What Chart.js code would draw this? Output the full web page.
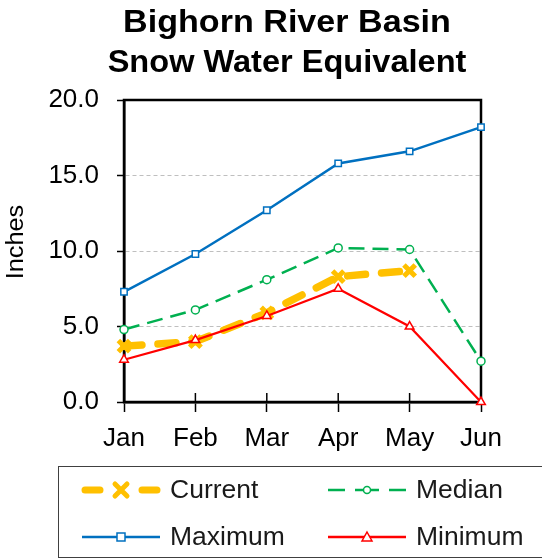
<!DOCTYPE html>
<html>
<head>
<meta charset="utf-8">
<script src="https://cdn.jsdelivr.net/npm/chart.js@4.4.1/dist/chart.umd.min.js"></script>
<style>
  html, body { margin: 0; padding: 0; background: #fff; }
  #wrap { width: 542px; height: 560px; }
</style>
</head>
<body>
<div id="wrap"><canvas id="swe"></canvas></div>
<script>
// Bighorn River Basin — snow water equivalent, monthly

const months = ['Jan', 'Feb', 'Mar', 'Apr', 'May', 'Jun'];
const currentSwe = [3.7, 4.0, 5.9, 8.3, 8.7, null];
const medianSwe = [4.8, 6.1, 8.1, 10.2, 10.1, 2.7];
const maximumSwe = [7.3, 9.8, 12.7, 15.8, 16.6, 18.2];
const minimumSwe = [2.8, 4.1, 5.7, 7.5, 5.0, 0.0];
const titleLines = ['Bighorn River Basin', 'Snow Water Equivalent'];
const yAxisTitle = 'Inches';

const FONT = "'Liberation Sans', Arial, sans-serif";
const ORANGE = '#FFC000';
const GREEN = '#00B050';
const BLUE = '#0070C0';
const RED = '#FF0000';

// legend entries (drawn by hand so the samples look like Excel's)
const legendItems = [
  { label: 'Current', color: ORANGE, width: 7, dash: 'current', marker: 'x', col: 0, row: 0 },
  { label: 'Median', color: GREEN, width: 2.5, dash: 'median', marker: 'circle', col: 1, row: 0 },
  { label: 'Maximum', color: BLUE, width: 2.5, dash: null, marker: 'square', col: 0, row: 1 },
  { label: 'Minimum', color: RED, width: 2.5, dash: null, marker: 'triangle', col: 1, row: 1 }
];

function drawMarker(ctx, type, x, y, color) {
  ctx.save();
  ctx.strokeStyle = color;
  ctx.fillStyle = '#fff';
  ctx.setLineDash([]);
  ctx.beginPath();
  if (type === 'x') {
    ctx.lineWidth = 5;
    ctx.lineCap = 'round';
    ctx.moveTo(x - 6, y - 6); ctx.lineTo(x + 6, y + 6);
    ctx.moveTo(x + 6, y - 6); ctx.lineTo(x - 6, y + 6);
    ctx.stroke();
  } else if (type === 'circle') {
    ctx.lineWidth = 1.5;
    ctx.arc(x, y, 3.5, 0, Math.PI * 2);
    ctx.fill(); ctx.stroke();
  } else if (type === 'square') {
    ctx.lineWidth = 1.5;
    ctx.rect(x - 4, y - 4, 8, 8);
    ctx.fill(); ctx.stroke();
  } else {
    ctx.lineWidth = 1.5;
    ctx.moveTo(x, y - 5); ctx.lineTo(x + 5, y + 4); ctx.lineTo(x - 5, y + 4); ctx.closePath();
    ctx.fill(); ctx.stroke();
  }
  ctx.restore();
}

// text slightly stretched sideways, like the original export
function wideText(ctx, text, x, y, sx) {
  ctx.save();
  ctx.translate(x, y);
  ctx.scale(sx, 1);
  ctx.fillText(text, 0, 0);
  ctx.restore();
}

const framePlugin = {
  id: 'frame',
  beforeDatasetsDraw(chart) {
    const { ctx, chartArea: a, scales } = chart;
    ctx.save();
    ctx.strokeStyle = '#000';
    ctx.lineWidth = 2.5;
    ctx.strokeRect(a.left, a.top, a.right - a.left, a.bottom - a.top);
    // x tick marks cross the axis line
    ctx.lineWidth = 1.5;
    months.forEach((m, i) => {
      const x = scales.x.getPixelForValue(i);
      ctx.beginPath();
      ctx.moveTo(x, a.bottom - 9);
      ctx.lineTo(x, a.bottom);
      ctx.stroke();
    });
    ctx.restore();
  },
  afterDraw(chart) {
    const { ctx } = chart;
    ctx.save();
    // title
    ctx.fillStyle = '#000';
    ctx.textAlign = 'center';
    ctx.textBaseline = 'alphabetic';
    ctx.font = 'bold 31px ' + FONT;
    wideText(ctx, titleLines[0], 287, 32, 1.1);
    wideText(ctx, titleLines[1], 287, 72, 1.05);

    // y axis title
    ctx.save();
    ctx.translate(17, 242);
    ctx.rotate(-Math.PI / 2);
    ctx.font = '23px ' + FONT;
    ctx.textBaseline = 'middle';
    ctx.scale(1.1, 1);
    ctx.fillText(yAxisTitle, 0, 0);
    ctx.restore();

    // legend box
    ctx.strokeStyle = '#404040';
    ctx.lineWidth = 1;
    ctx.strokeRect(58.5, 466.5, 500, 91);
    ctx.font = '25px ' + FONT;
    ctx.textAlign = 'left';
    ctx.textBaseline = 'middle';
    legendItems.forEach(it => {
      const x0 = it.col === 0 ? 82 : 328;
      const x1 = x0 + 78;
      const xm = (x0 + x1) / 2;
      const y = it.row === 0 ? 490 : 537;
      ctx.strokeStyle = it.color;
      ctx.lineWidth = it.width;
      ctx.beginPath();
      if (it.dash === 'current') {
        ctx.lineCap = 'round';
        ctx.moveTo(x0 + 3, y); ctx.lineTo(x0 + 18, y);
        ctx.moveTo(x1 - 18, y); ctx.lineTo(x1 - 3, y);
      } else if (it.dash === 'median') {
        ctx.lineCap = 'butt';
        ctx.moveTo(x0, y); ctx.lineTo(x0 + 17, y);
        ctx.moveTo(xm - 12, y); ctx.lineTo(xm + 12, y);
        ctx.moveTo(x1 - 17, y); ctx.lineTo(x1, y);
      } else {
        ctx.lineCap = 'butt';
        ctx.moveTo(x0, y); ctx.lineTo(x1, y);
      }
      ctx.stroke();
      drawMarker(ctx, it.marker, xm, y, it.color);
      ctx.fillStyle = '#1a1a1a';
      wideText(ctx, it.label, x1 + 10, y + 1, 1.06);
    });
    ctx.restore();
  }
};

new Chart(document.getElementById('swe'), {
  type: 'line',
  data: {
    labels: months,
    datasets: [
      {
        label: 'Minimum', data: minimumSwe,
        borderColor: RED, borderWidth: 2.2,
        pointStyle: 'triangle', pointRadius: 5, pointBorderWidth: 1.5,
        pointBackgroundColor: '#fff', pointBorderColor: RED,
        clip: false, tension: 0
      },
      {
        label: 'Maximum', data: maximumSwe,
        borderColor: BLUE, borderWidth: 2.5,
        pointStyle: 'rect', pointRadius: 4.5, pointBorderWidth: 1.5,
        pointBackgroundColor: '#fff', pointBorderColor: BLUE,
        clip: false, tension: 0
      },
      {
        label: 'Median', data: medianSwe,
        borderColor: GREEN, borderWidth: 2.5, borderDash: [16, 8],
        pointStyle: 'circle', pointRadius: 4, pointBorderWidth: 1.5,
        pointBackgroundColor: '#fff', pointBorderColor: GREEN,
        clip: false, tension: 0
      },
      {
        label: 'Current', data: currentSwe,
        borderColor: ORANGE, borderWidth: 7.5, borderDash: [18, 16], borderCapStyle: 'round',
        pointStyle: 'crossRot', pointRadius: 8, pointBorderWidth: 5,
        pointBorderColor: ORANGE,
        clip: false, tension: 0, spanGaps: false
      }
    ]
  },
  options: {
    responsive: true,
    maintainAspectRatio: false,
    animation: false,
    layout: { padding: { left: 0, right: 61, top: 100, bottom: 108 } },
    plugins: {
      legend: { display: false },
      title: { display: false },
      tooltip: { enabled: false }
    },
    scales: {
      x: {
        offset: false,
        afterFit: s => { s.height = 50; },
        border: { display: true, color: '#000', width: 2.5 },
        grid: { drawOnChartArea: false, color: 'transparent', tickColor: '#000', tickLength: 10, tickWidth: 1.5 },
        ticks: { color: '#000', padding: 11, font: { family: FONT, size: 26 }, maxRotation: 0 }
      },
      y: {
        min: 0,
        max: 20,
        afterFit: s => { s.width = 124; },
        border: { display: true, color: '#000', width: 2.5, dash: [4, 3] },
        grid: {
          color: c => (c.tick && (c.tick.value === 0 || c.tick.value === 20)) ? 'transparent' : '#BFBFBF',
          lineWidth: 1,
          tickColor: '#000', tickLength: 7, tickWidth: 1.5, tickBorderDash: []
        },
        ticks: {
          stepSize: 5, color: '#000', padding: 18,
          font: { family: FONT, size: 26 },
          callback: v => v.toFixed(1)
        }
      }
    }
  },
  plugins: [framePlugin]
});
</script>
</body>
</html>
